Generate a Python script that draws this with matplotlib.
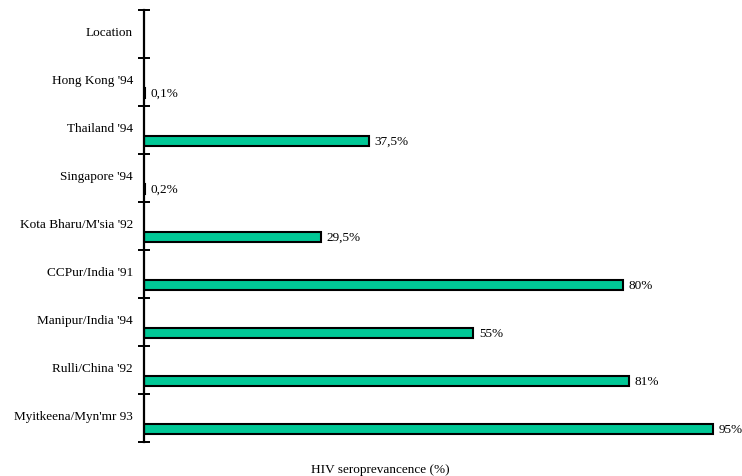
import numpy as np
import matplotlib.pyplot as plt

# rows top to bottom; first row is a header with no bar
locations = ["Location", "Hong Kong '94", "Thailand '94", "Singapore '94",
             "Kota Bharu/M'sia '92", "CCPur/India '91", "Manipur/India '94",
             "Rulli/China '92", "Myitkeena/Myn'mr 93"]
prevalence = [0.1, 37.5, 0.2, 29.5, 80, 55, 81, 95]

plt.rcParams['font.family'] = ['Liberation Serif', 'DejaVu Serif']

fig = plt.figure(figsize=(7.42, 4.77), dpi=100)
ax = fig.add_axes([144 / 742, 1 - 443 / 477, 593 / 742, 432 / 477])

rows = np.arange(1, len(locations))
bar_pos = rows + 0.23
bars = ax.barh(bar_pos, prevalence, height=0.21, color='#00c896',
               edgecolor='black', linewidth=1.5)

for b, v in zip(bars, prevalence):
    txt = f"{v:g}".replace('.', ',') + '%'
    ax.annotate(txt, (b.get_width(), b.get_y() + b.get_height() / 2),
                xytext=(4, 0), textcoords='offset points',
                va='center', ha='left', fontsize=9.5)

ax.set_xlim(0, 99)
ax.set_ylim(len(locations) - 0.5, -0.5)

# boundary ticks on the axis line, names between them
ax.set_yticks(np.arange(-0.5, len(locations), 1.0))
ax.set_yticklabels([])
ax.set_yticks(np.arange(len(locations)) - 0.07, minor=True)
ax.set_yticklabels(locations, minor=True, fontsize=9.5)
ax.tick_params(axis='y', which='major', direction='inout', length=9, width=1.4)
ax.tick_params(axis='y', which='minor', length=0, pad=8)
ax.set_xticks([])

for side in ['top', 'right', 'bottom']:
    ax.spines[side].set_visible(False)
ax.spines['left'].set_linewidth(1.6)

fig.text(380 / 742, 1 - 470 / 477, 'HIV seroprevancence (%)',
         ha='center', va='center', fontsize=9.5)

fig.savefig('out.png', dpi=100)
